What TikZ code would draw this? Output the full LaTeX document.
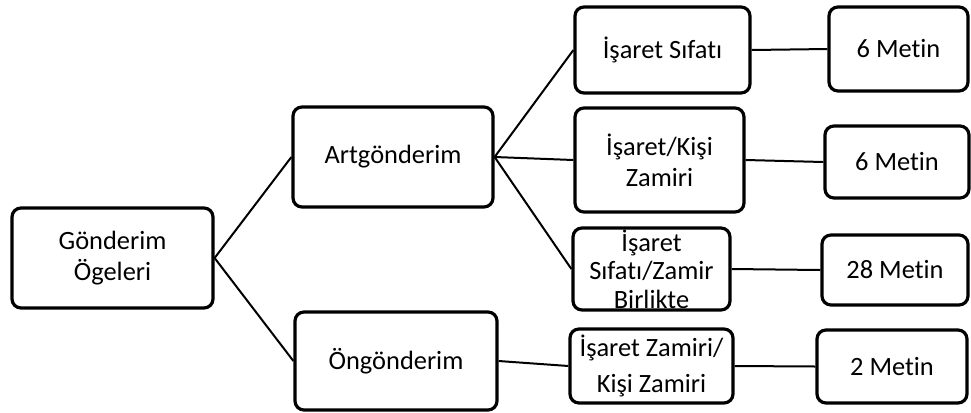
\documentclass[tikz,border=0pt]{standalone}
\usepackage{fontspec}
\setmainfont{Carlito}[Ligatures=NoCommon]
\begin{document}
\begin{tikzpicture}[x=1bp,y=-1bp,
  box/.style={draw, line width=3.2bp, rounded corners=9bp, inner sep=0pt, align=center,
              font=\fontsize{26.5}{31}\selectfont},
  link/.style={line width=2bp}]
\useasboundingbox (0,0) rectangle (971,412);
\node[box, minimum width=201bp, minimum height=100bp] (g) at (112.5,258) {Gönderim\\Ögeleri};
\node[box, minimum width=200bp, minimum height=100bp] (art) at (393,157) {Artgönderim};
\node[box, minimum width=202bp, minimum height=98bp] (ong) at (396,361) {Öngönderim};
\node[box, minimum width=175bp, minimum height=86bp] (s1) at (662.5,50) {İşaret Sıfatı};
\node[box, minimum width=169bp, minimum height=104bp] (s2) at (659.5,160) {İşaret/Kişi\\Zamiri};
\node[box, minimum width=157bp, minimum height=82bp,
      label={[align=center, inner sep=0pt, font=\fontsize{26.5}{28.5}\selectfont]center:İşaret\\Sıfatı/Zamir\\Birlikte}] (s3) at (651.5,269) {};
\node[box, minimum width=163bp, minimum height=74bp, font=\fontsize{26.5}{37}\selectfont] (s4) at (651.5,366) {İşaret Zamiri/\\Kişi Zamiri};
\node[box, minimum width=139bp, minimum height=84bp] (m1) at (898.5,49) {6 Metin};
\node[box, minimum width=144bp, minimum height=72bp] (m2) at (897,162) {6 Metin};
\node[box, minimum width=146bp, minimum height=70bp] (m3) at (895,270) {28 Metin};
\node[box, minimum width=150bp, minimum height=73bp] (m4) at (892,366.5) {2 Metin};
\draw[link] (g.east) -- (art.west);
\draw[link] (g.east) -- (ong.west);
\draw[link] (art.east) -- (s1.west);
\draw[link] (art.east) -- (s2.west);
\draw[link] (art.east) -- (s3.west);
\draw[link] (ong.east) -- (s4.west);
\draw[link] (s1.east) -- (m1.west);
\draw[link] (s2.east) -- (m2.west);
\draw[link] (s3.east) -- (m3.west);
\draw[link] (s4.east) -- (m4.west);
\end{tikzpicture}
\end{document}
